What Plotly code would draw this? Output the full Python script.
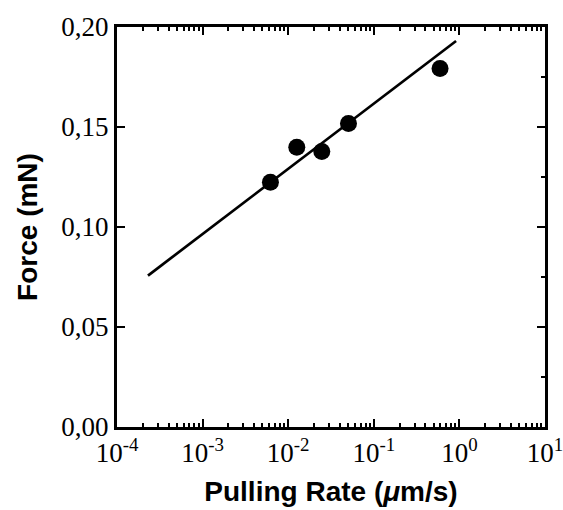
import plotly.graph_objects as go

# Data
rate = [0.0062, 0.0126, 0.0247, 0.0506, 0.594]       # Pulling rate (µm/s)
force = [0.1224, 0.1399, 0.1377, 0.1518, 0.1792]     # Force (mN)

fit_rate = [2.30e-4, 0.914]
fit_force = [0.0757, 0.1930]

x_tickvals = [1e-4, 1e-3, 1e-2, 1e-1, 1e0, 1e1]
x_ticktext = ["10<sup>-4</sup>", "10<sup>-3</sup>", "10<sup>-2</sup>",
              "10<sup>-1</sup>", "10<sup>0</sup>", "10<sup>1</sup>"]
y_tickvals = [0.00, 0.05, 0.10, 0.15, 0.20]

fig = go.Figure()
fig.add_trace(go.Scatter(x=fit_rate, y=fit_force, mode="lines", yaxis="y2",
                         line=dict(color="black", width=2.7), showlegend=False))
fig.add_trace(go.Scatter(x=rate, y=force, mode="markers",
                         marker=dict(color="black", size=17), showlegend=False))

serif = "Liberation Serif"
tick_font = dict(family=serif, size=27, color="black")
title_font = dict(family="Liberation Sans", size=28, color="black", weight="bold")

fig.update_layout(
    width=563, height=510,
    margin=dict(l=117, r=18, t=27, b=83, autoexpand=False),
    paper_bgcolor="white", plot_bgcolor="white",
    separators=",.",
    xaxis=dict(
        type="log", range=[-4, 1],
        tickvals=x_tickvals, ticktext=x_ticktext,
        ticks="inside", ticklen=8, tickwidth=2, tickcolor="black",
        showline=True, linecolor="black", linewidth=3, mirror="ticks",
        showgrid=False, zeroline=False, automargin=False,
        ticklabeloverflow="allow",
        tickfont=tick_font,
        minor=dict(ticks="inside", ticklen=4, tickwidth=2, tickcolor="black",
                   dtick="D1", showgrid=False),
        title=dict(text="Pulling Rate (<i>μ</i>m/s)", font=title_font, standoff=14),
    ),
    yaxis=dict(
        range=[0, 0.2], tickvals=y_tickvals, tickformat=".2f",
        ticks="inside", ticklen=8, tickwidth=2, tickcolor="black",
        showline=True, linecolor="black", linewidth=3, mirror=True,
        showgrid=False, zeroline=False, automargin=False,
        tickfont=tick_font,
        title=dict(text="Force (mN)", font=title_font, standoff=16),
    ),
    yaxis2=dict(
        overlaying="y", side="right", range=[0, 0.2], tickvals=y_tickvals,
        ticks="inside", ticklen=8, tickwidth=2, tickcolor="black",
        showticklabels=False, showline=False, showgrid=False, zeroline=False,
        automargin=False,
        minor=dict(ticks="inside", ticklen=4, tickwidth=2, tickcolor="black",
                   dtick=0.025, showgrid=False),
    ),
)
# remove the page's default body margin so the figure fills the window exactly
fig.write_html(
    "out.html",
    config={"displayModeBar": False},
    post_script="document.body.style.margin='0';document.body.style.overflow='hidden';",
)
